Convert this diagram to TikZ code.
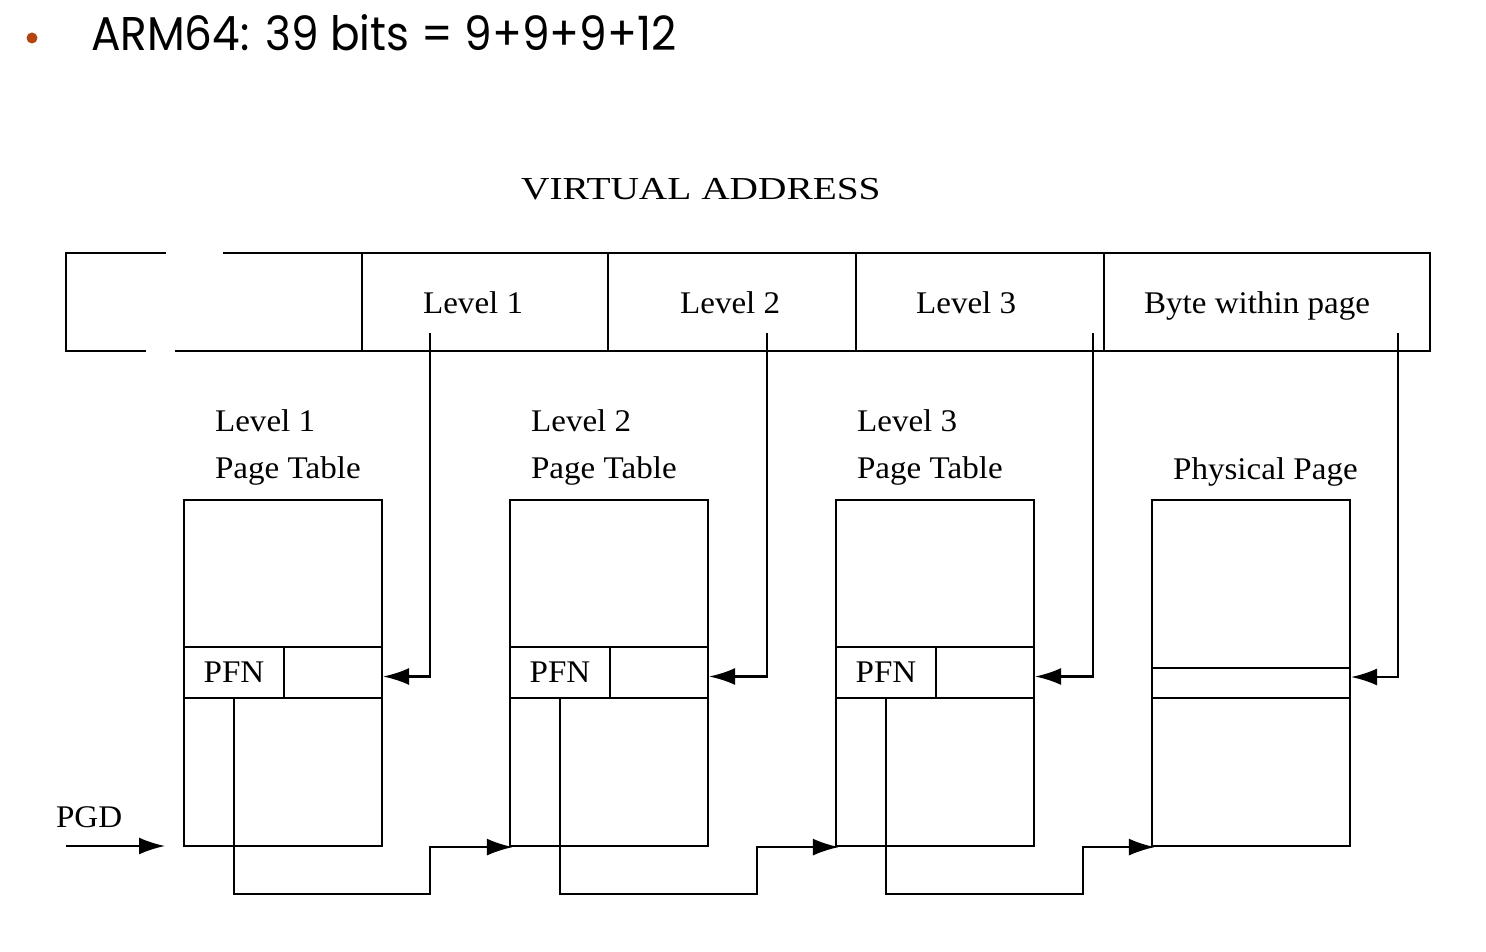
\documentclass[tikz,border=0pt]{standalone}
\usepackage{fontspec}
\setmainfont{Liberation Serif}
\newfontfamily\titlefont{Poppins}
\usetikzlibrary{arrows.meta}
\definecolor{bulletc}{HTML}{B5450F}
\newcommand{\wide}[1]{\scalebox{1.05}[1]{#1}}
\begin{document}
\begin{tikzpicture}[x=1pt,y=-1pt, line width=2.2pt,
  lbl/.style={font=\fontsize{31.5}{36}\selectfont, inner sep=0pt, anchor=base west},
  cell/.style={draw, minimum height=98pt, inner sep=0pt},
  tbl/.style={draw, minimum width=198pt, minimum height=346pt, inner sep=0pt},
  row/.style={draw, minimum width=198pt, inner sep=0pt},
  pfncell/.style={draw, minimum width=100pt, minimum height=51pt, inner sep=0pt, font=\fontsize{31.5}{36}\selectfont},
  arr/.style={-{Latex[length=26pt,width=17pt]}},
]
\useasboundingbox (0,0) rectangle (1486,952);

% title
\fill[bulletc] (32,38) circle (5.5pt);
\node[inner sep=0pt, anchor=base west] (title) at (90,51)
  {\resizebox{585pt}{36pt}{\titlefont ARM64: 39 bits = 9+9+9+12}};

\node[inner sep=0pt, anchor=base west, font=\fontsize{32}{36}\selectfont] (va) at (520,200)
  {\scalebox{1.23}[1]{VIRTUAL ADDRESS}};

% virtual address box
\draw (166,253) -- (66,253) -- (66,351) -- (146,351);
\draw (223,253) -- (362,253);
\draw (175,351) -- (362,351);
\node[cell, minimum width=246pt] (l1) at (485,302) {};
\node[cell, minimum width=248pt] (l2) at (732,302) {};
\node[cell, minimum width=248pt] (l3) at (980,302) {};
\node[cell, minimum width=326pt] (off) at (1267,302) {};
\node[lbl] (tl1) at (422,313) {\wide{Level 1}};
\node[lbl] (tl2) at (679,313) {\wide{Level 2}};
\node[lbl] (tl3) at (915,313) {\wide{Level 3}};
\node[lbl] (toff) at (1143,313) {\wide{Byte within page}};

% table labels
\node[lbl] (h1a) at (214,431) {\wide{Level 1}};
\node[lbl] (h1b) at (214,478) {\wide{Page Table}};
\node[lbl] (h2a) at (530,431) {\wide{Level 2}};
\node[lbl] (h2b) at (530,478) {\wide{Page Table}};
\node[lbl] (h3a) at (856,431) {\wide{Level 3}};
\node[lbl] (h3b) at (856,478) {\wide{Page Table}};
\node[lbl] (h4) at (1172,479) {\wide{Physical Page}};

% tables
\node[tbl] (t1) at (283,673) {};
\node[tbl] (t2) at (609,673) {};
\node[tbl] (t3) at (935,673) {};
\node[tbl] (pp) at (1251,673) {};
\node[row, minimum height=51pt] (r1) at (283,672.5) {};
\node[row, minimum height=51pt] (r2) at (609,672.5) {};
\node[row, minimum height=51pt] (r3) at (935,672.5) {};
\node[row, minimum height=30pt] (ppr) at (1251,683) {};
\node[pfncell] (pfn1) at (234,672.5) {\wide{PFN}};
\node[pfncell] (pfn2) at (560,672.5) {\wide{PFN}};
\node[pfncell] (pfn3) at (886,672.5) {\wide{PFN}};

% index lines from virtual address
\coordinate (s1) at (430,333);
\coordinate (s2) at (767,333);
\coordinate (s3) at (1093,333);
\coordinate (s4) at (1398,333);
\draw[arr] (s1) |- ([yshift=-4pt]r1.east);
\draw[arr] (s2) |- ([yshift=-4pt]r2.east);
\draw[arr] (s3) |- ([yshift=-4pt]r3.east);
\draw[arr] (s4) |- ([yshift=6pt]ppr.east);

% PGD
\node[lbl] (pgd) at (55,827) {\wide{PGD}};
\coordinate (pgdS) at (66,846);
\coordinate (pgdE) at (165,846);
\draw[arr] (pgdS) -- (pgdE);

% PFN chains
\coordinate (j1) at (430,894);
\coordinate (j2) at (757,894);
\coordinate (j3) at (1083,894);
\draw[arr] (pfn1.south) |- (j1) |- ([xshift=4pt]t2.south west);
\draw[arr] (pfn2.south) |- (j2) |- ([xshift=4pt]t3.south west);
\draw[arr] (pfn3.south) |- (j3) |- ([xshift=4pt]pp.south west);
\end{tikzpicture}
\end{document}
